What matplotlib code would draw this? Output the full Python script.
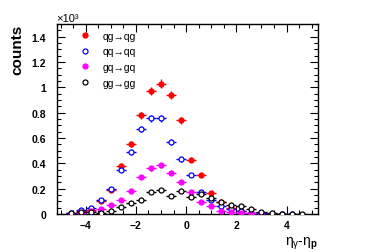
import numpy as np
import matplotlib
matplotlib.use("Agg")
import matplotlib.pyplot as plt
from matplotlib.lines import Line2D
from matplotlib.ticker import MultipleLocator

plt.rcParams["font.family"] = ["Liberation Sans", "DejaVu Sans"]
plt.rcParams["mathtext.fontset"] = "custom"
plt.rcParams["mathtext.rm"] = "Liberation Sans"
plt.rcParams["mathtext.it"] = "Liberation Sans"
plt.rcParams["mathtext.bf"] = "Liberation Sans:bold"

# bin centres of eta_gamma - eta_p (width 0.4)
bin_centres = [-4.6, -4.2, -3.8, -3.4, -3.0, -2.6, -2.2, -1.8, -1.4, -1.0, -0.6, -0.2,
               0.2, 0.6, 1.0, 1.4, 1.8, 2.2, 2.6, 3.0, 3.4, 3.8, 4.2, 4.6]
bin_halfwidth = 0.2

# counts in units of 10^3
qg_qg = [0.003, 0.02, 0.03, 0.10, 0.19, 0.38, 0.55, 0.78, 0.97, 1.03, 0.94, 0.74,
         0.43, 0.31, 0.165, 0.095, 0.045, 0.02, 0.01, 0.004, 0.002, 0.001, np.nan, np.nan]
qq_qq = [0.005, 0.03, 0.045, 0.108, 0.195, 0.35, 0.49, 0.67, 0.755, 0.755, 0.57, 0.433,
         0.307, 0.17, 0.11, 0.06, 0.04, 0.02, 0.01, 0.005, 0.003, 0.002, 0.001, np.nan]
gq_gq = [0.003, 0.01, 0.025, 0.037, 0.07, 0.108, 0.18, 0.294, 0.362, 0.386, 0.323, 0.254,
         0.17, 0.092, 0.067, 0.026, 0.018, 0.01, 0.005, 0.003, 0.001, np.nan, np.nan, np.nan]
gg_gg = [0.005, 0.013, 0.013, 0.01, 0.02, 0.053, 0.087, 0.11, 0.172, 0.19, 0.14, 0.18,
         0.136, 0.157, 0.13, 0.092, 0.071, 0.06, 0.037, 0.013, 0.005, 0.003, 0.002, 0.001]

labels = ["qg\u2192qg", "qq\u2192qq", "gq\u2192gq", "gg\u2192gg"]
series = [qg_qg, qq_qq, gq_gq, gg_gg]
styles = [
    dict(color="#ff0000", mfc="#ff0000"),
    dict(color="#0000ff", mfc="white"),
    dict(color="#ff00ff", mfc="#ff00ff"),
    dict(color="#000000", mfc="white"),
]

fig = plt.figure(figsize=(3.74, 2.53), dpi=100)
ax = fig.add_axes([57 / 374, 1 - 215 / 253, 261 / 374, 190 / 253])

x = np.array(bin_centres)
handles = []
for vals, st, lab in zip(series, styles, labels):
    y = np.array(vals, dtype=float)
    yerr = np.sqrt(np.nan_to_num(y) * 1000) / 1000
    ax.errorbar(x, y, xerr=bin_halfwidth, yerr=yerr, fmt="o", ms=3.6,
                color=st["color"], mfc=st["mfc"], mec=st["color"], mew=0.9,
                elinewidth=1.0, capsize=0, zorder=3)
    handles.append(Line2D([], [], ls="none", marker="o", ms=3.6, color=st["color"],
                          mfc=st["mfc"], mec=st["color"], mew=0.9))

ax.set_xlim(-5.14, 5.25)
ax.set_ylim(0, 1.5)

ax.xaxis.set_major_locator(MultipleLocator(2))
ax.xaxis.set_minor_locator(MultipleLocator(0.5))
ax.yaxis.set_major_locator(MultipleLocator(0.2))
ax.yaxis.set_minor_locator(MultipleLocator(0.05))
ax.tick_params(which="both", direction="in", top=True, right=True, width=0.8,
               labelsize=7.5)
ax.tick_params(which="major", length=6)
ax.tick_params(which="minor", length=3)
ax.tick_params(axis="x", pad=4)
ax.tick_params(axis="y", pad=8)
ax.yaxis.set_major_formatter(plt.FuncFormatter(lambda v, p: f"{v:g}"))
for lbl in ax.get_xticklabels() + ax.get_yticklabels():
    lbl.set_fontweight("bold")
for sp in ax.spines.values():
    sp.set_linewidth(1.0)

ax.set_ylabel("counts", fontsize=11, fontweight="bold", loc="top")
ax.yaxis.set_label_coords(-0.125, 1.0)
ax.set_xlabel(r"$\eta_{\gamma}$-$\eta_{\mathbf{p}}$", fontsize=10, loc="right",
              labelpad=4)

fig.text(56 / 374, 1 - 23.5 / 253, "\u00d710\u00b3", fontsize=8, ha="left", va="bottom")

ax.legend(handles, labels, loc="upper left", bbox_to_anchor=(0.086, 0.965),
          frameon=False, fontsize=7.5, handlelength=1.0, handletextpad=1.2,
          labelspacing=0.55, borderpad=0, borderaxespad=0)

fig.savefig("out.png", dpi=100)
